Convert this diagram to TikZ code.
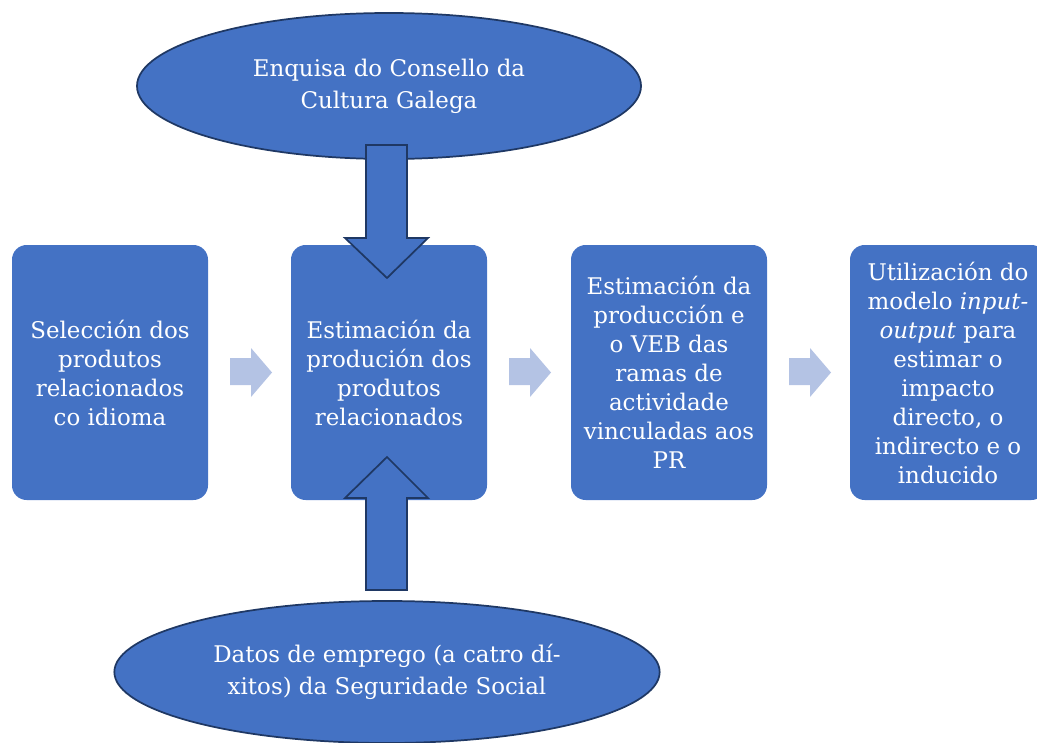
\documentclass[tikz,border=0pt]{standalone}
\usepackage{fontspec}
\setmainfont{DejaVu Serif}
\usetikzlibrary{shapes.geometric}
\definecolor{fillblue}{HTML}{4472C4}
\definecolor{edgeblue}{HTML}{1F3864}
\definecolor{lightarrow}{HTML}{B4C3E4}
\tikzset{
  srcell/.style={ellipse, draw=edgeblue, line width=1.3pt, fill=fillblue, text=white,
    align=center, inner sep=0pt, font=\fontsize{17.2}{24}\selectfont},
  stepbox/.style={rectangle, rounded corners=11pt, fill=fillblue, text=white, align=center,
    minimum width=147pt, minimum height=191.25pt, inner sep=0pt,
    font=\fontsize{17.2}{21.75}\selectfont},
  flowarrow/.style={fill=lightarrow, draw=none},
  feedarrow/.style={fill=fillblue, draw=edgeblue, line width=1.3pt, line join=miter},
}
\begin{document}
\begin{tikzpicture}[x=0.75pt,y=-0.75pt]
\useasboundingbox (0,0) rectangle (1037,742);
\node[srcell, minimum width=378pt, minimum height=109.5pt] (top) at (389,86)
  {Enquisa do Consello da\\Cultura Galega};
\node[srcell, minimum width=409pt, minimum height=106.5pt] (bot) at (387,672)
  {Datos de emprego (a catro dí-\\xitos) da Seguridade Social};
\node[stepbox] (b1) at (110,372.5) {Selección dos\\produtos\\relacionados\\co idioma};
\node[stepbox] (b2) at (389,372.5) {Estimación da\\produción dos\\produtos\\relacionados};
\node[stepbox] (b3) at (669,372.5) {Estimación da\\producción e\\o VEB das\\ramas de\\actividade\\vinculadas aos\\PR};
\node[stepbox] (b4) at (948,372.5) {Utilización do\\modelo \textit{input-}\\\textit{output} para\\estimar o\\impacto\\directo, o\\indirecto e o\\inducido};
% light flow arrows
\foreach \x in {230,509,789}{
  \path[flowarrow] (\x,358) -- (\x+21,358) -- (\x+21,348) -- (\x+42,372.5) -- (\x+21,397)
    -- (\x+21,385) -- (\x,385) -- cycle;
}
% feed arrows
\path[feedarrow] (366,145) -- (407,145) -- (407,238) -- (428,238) -- (387,278) -- (345,238)
  -- (366,238) -- cycle;
\path[feedarrow] (366,590) -- (407,590) -- (407,498) -- (428,498) -- (387,457) -- (345,498)
  -- (366,498) -- cycle;
\end{tikzpicture}
\end{document}
